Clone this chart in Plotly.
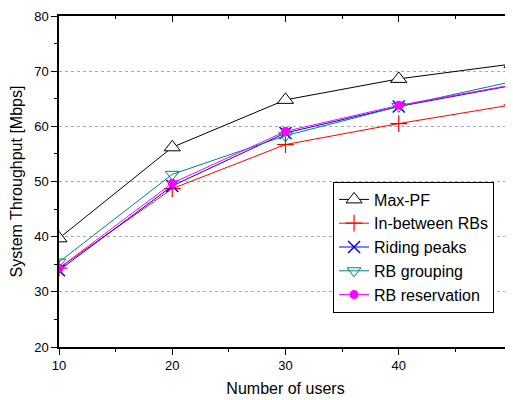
import plotly.graph_objects as go

users = [10, 20, 30, 40, 50]
max_pf = [39.7, 56.2, 64.8, 68.6, 71.3]
in_between = [34.3, 48.7, 56.7, 60.5, 63.9]
riding_peaks = [33.9, 49.2, 58.8, 63.6, 67.4]
rb_grouping = [35.4, 51.3, 58.3, 63.6, 68.1]
rb_reservation = [34.3, 49.7, 59.1, 63.8, 67.5]

series = [
    ("Max-PF", max_pf, "black", dict(symbol="triangle-up", size=14, color="white",
                                       line=dict(color="black", width=1))),
    ("In-between RBs", in_between, "#FF0000", dict(symbol="cross-thin-open", size=12, color="#FF0000",
                                                   line=dict(color="#FF0000", width=1.2))),
    ("Riding peaks", riding_peaks, "#0000FF", dict(symbol="x-thin-open", size=12, color="#0000FF",
                                                  line=dict(color="#0000FF", width=1.5))),
    ("RB grouping", rb_grouping, "#008080", dict(symbol="triangle-down-open", size=12, color="#008080",
                                                line=dict(color="#008080", width=1))),
    ("RB reservation", rb_reservation, "#FF00FF", dict(symbol="circle", size=9, color="#FF00FF",
                                                      line=dict(width=0))),
]

fig = go.Figure()
for name, vals, col, mk in series:
    fig.add_trace(go.Scatter(x=users, y=vals, name=name, mode="lines+markers",
                             line=dict(color=col, width=1), marker=mk))

# invisible trace for mirrored axes with inward ticks
fig.add_trace(go.Scatter(x=[10], y=[20], xaxis="x2", yaxis="y2", mode="markers",
                         marker=dict(opacity=0), showlegend=False, hoverinfo="skip"))

axis_font = dict(family="Liberation Sans, Arial", size=13, color="black")
# page body has an 8px margin, so the figure is sized to fit inside the window
fig.update_layout(
    width=505, height=392,
    margin=dict(l=51, r=1, t=8, b=53, autoexpand=False),
    paper_bgcolor="white", plot_bgcolor="white",
    font=dict(family="Liberation Sans, Arial", color="black"),
    xaxis=dict(range=[10, 50], dtick=10, tick0=10, ticks="outside", ticklen=6, tickwidth=1.2,
               tickcolor="black", showline=True, linecolor="black", linewidth=1.5,
               showgrid=False, zeroline=False, tickfont=axis_font, automargin=False,
               ticklabeloverflow="allow",
               minor=dict(dtick=5, ticks="outside", ticklen=3, tickcolor="black", showgrid=False),
               title=dict(text="Number of users", font=dict(size=16), standoff=10)),
    yaxis=dict(range=[20, 80], dtick=10, ticks="outside", ticklen=6, tickwidth=1.2,
               tickcolor="black", showline=True, linecolor="black", linewidth=1.5,
               showgrid=True, gridcolor="#AAAAAA", griddash="dot", gridwidth=1,
               zeroline=False, tickfont=axis_font, automargin=False,
               minor=dict(dtick=5, ticks="outside", ticklen=3, tickcolor="black", showgrid=False),
               title=dict(text="System Throughput [Mbps]", font=dict(size=16), standoff=8)),
    xaxis2=dict(range=[10, 50], dtick=10, tick0=10, overlaying="x", side="top", ticks="inside",
                ticklen=6, tickwidth=1.2, tickcolor="black", showline=True, linecolor="black",
                linewidth=1.5, showticklabels=False, showgrid=False, zeroline=False, automargin=False,
                minor=dict(dtick=5, ticks="inside", ticklen=3, tickcolor="black", showgrid=False)),
    yaxis2=dict(range=[20, 80], dtick=10, overlaying="y", side="right", ticks="inside",
                ticklen=6, tickwidth=1.2, tickcolor="black", showline=True, linecolor="black",
                linewidth=1.5, showticklabels=False, showgrid=False, zeroline=False, automargin=False,
                minor=dict(dtick=5, ticks="inside", ticklen=3, tickcolor="black", showgrid=False)),
    legend=dict(x=0.605, y=0.50, xanchor="left", yanchor="top", bgcolor="white",
                bordercolor="black", borderwidth=1, font=dict(size=16), tracegroupgap=0),
    showlegend=True,
)

fig.write_html("out.html")
